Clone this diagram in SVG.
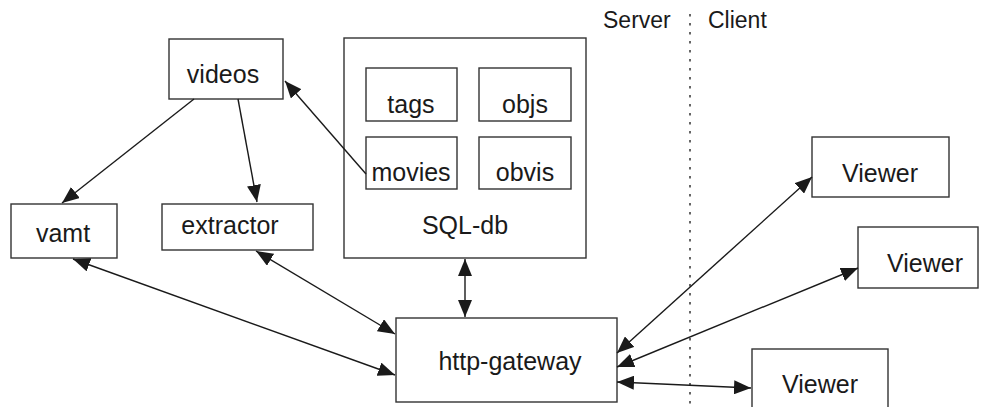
<svg xmlns="http://www.w3.org/2000/svg" width="983" height="407" viewBox="0 0 983 407">
  <style>
    .box { fill: #fff; stroke: #333; stroke-width: 1.4; }
    .lbl { font-family: "Liberation Sans", Arial, sans-serif; font-size: 25px; fill: #1a1a1a; text-anchor: middle; }
    .side { font-family: "Liberation Sans", Arial, sans-serif; font-size: 23px; fill: #1a1a1a; }
    .edge { stroke: #1a1a1a; stroke-width: 1.4; fill: none; }
    .divider { stroke: #333; stroke-width: 1.5; stroke-dasharray: 2.5 6.5; }
  </style>
  <defs>
    <marker id="arrow" markerUnits="userSpaceOnUse" markerWidth="18" markerHeight="14" refX="17" refY="7" orient="auto-start-reverse">
      <path d="M0,0 L17,7 L0,14 Z" fill="#1a1a1a"/>
    </marker>
  </defs>

  <!-- server / client boundary -->
  <g id="boundary">
    <line class="divider" x1="690" y1="14" x2="690" y2="407"/>
    <text class="side" x="603" y="28">Server</text>
    <text class="side" x="708" y="28">Client</text>
  </g>

  <g id="videos">
    <rect class="box" x="169" y="39" width="114" height="60"/>
    <text class="lbl" x="223" y="83">videos</text>
  </g>

  <g id="sql-db">
    <rect class="box" x="344" y="38" width="242" height="220"/>
    <text class="lbl" x="465" y="234">SQL-db</text>
    <g id="tags">
      <rect class="box" x="366" y="68" width="91" height="53"/>
      <text class="lbl" x="411" y="113">tags</text>
    </g>
    <g id="objs">
      <rect class="box" x="479" y="68" width="92" height="53"/>
      <text class="lbl" x="525" y="113">objs</text>
    </g>
    <g id="movies">
      <rect class="box" x="366" y="137" width="91" height="52"/>
      <text class="lbl" x="411" y="181">movies</text>
    </g>
    <g id="obvis">
      <rect class="box" x="479" y="137" width="92" height="52"/>
      <text class="lbl" x="525" y="181">obvis</text>
    </g>
  </g>

  <g id="vamt">
    <rect class="box" x="11" y="204" width="106" height="54"/>
    <text class="lbl" x="63" y="242">vamt</text>
  </g>

  <g id="extractor">
    <rect class="box" x="162" y="204" width="151" height="46"/>
    <text class="lbl" x="230" y="234">extractor</text>
  </g>

  <g id="http-gateway">
    <rect class="box" x="396" y="318" width="221" height="84"/>
    <text class="lbl" x="510" y="370">http-gateway</text>
  </g>

  <g id="viewer-1">
    <rect class="box" x="812" y="137" width="137" height="60"/>
    <text class="lbl" x="880" y="182">Viewer</text>
  </g>
  <g id="viewer-2">
    <rect class="box" x="858" y="227" width="120" height="61"/>
    <text class="lbl" x="925" y="272">Viewer</text>
  </g>
  <g id="viewer-3">
    <rect class="box" x="752" y="349" width="136" height="70"/>
    <text class="lbl" x="820" y="393">Viewer</text>
  </g>

  <g id="connectors">
    <line class="edge" x1="194" y1="99" x2="62" y2="203" marker-end="url(#arrow)"/>
    <line class="edge" x1="238" y1="99" x2="257" y2="202" marker-end="url(#arrow)"/>
    <line class="edge" x1="366" y1="174" x2="285" y2="81" marker-end="url(#arrow)"/>
    <line class="edge" x1="465" y1="259" x2="465" y2="317" marker-start="url(#arrow)" marker-end="url(#arrow)"/>
    <line class="edge" x1="73" y1="259" x2="395" y2="375" marker-start="url(#arrow)" marker-end="url(#arrow)"/>
    <line class="edge" x1="256" y1="251" x2="395" y2="334" marker-start="url(#arrow)" marker-end="url(#arrow)"/>
    <line class="edge" x1="617" y1="353" x2="812" y2="177" marker-start="url(#arrow)" marker-end="url(#arrow)"/>
    <line class="edge" x1="617" y1="367" x2="858" y2="268" marker-start="url(#arrow)" marker-end="url(#arrow)"/>
    <line class="edge" x1="617" y1="382" x2="751" y2="388" marker-start="url(#arrow)" marker-end="url(#arrow)"/>
  </g>
</svg>
